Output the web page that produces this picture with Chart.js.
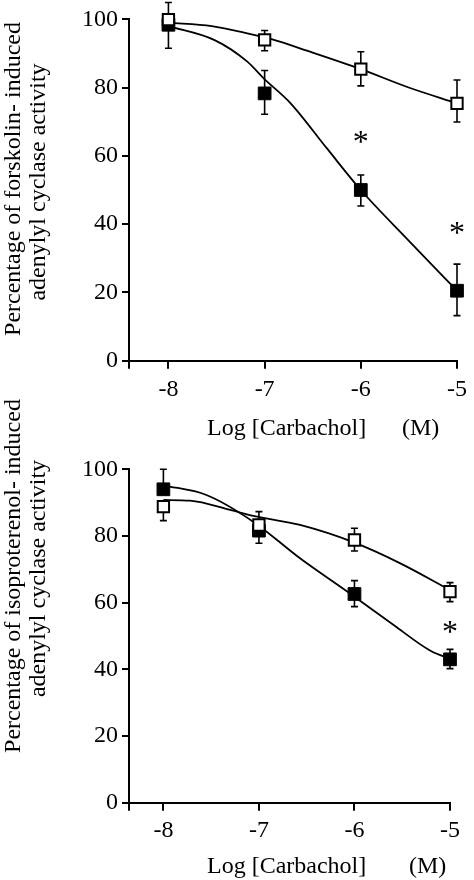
<!DOCTYPE html>
<html>
<head>
<meta charset="utf-8">
<script src="https://cdn.jsdelivr.net/npm/chart.js@4.4.1/dist/chart.umd.min.js"></script>
<style>
  html, body { margin: 0; padding: 0; background: #fff; }
  body { position: relative; width: 474px; height: 880px; }
  canvas { display: block; position: absolute; left: 0; }
  #forskolinChart { top: 0; }
  /* bottom panel overlaps the top one a little so its long y title is not cut */
  #isoproterenolChart { top: 380px; }
</style>
</head>
<body>
<canvas id="forskolinChart" width="474" height="440"></canvas>
<canvas id="isoproterenolChart" width="474" height="500"></canvas>
<script>
// shared axes
const doses = [-8, -7, -6, -5];
const xTickValues = [-8, -7, -6, -5];
const yTickValues = [0, 20, 40, 60, 80, 100];

// top panel: forskolin
const forskolinOpen = [99.9, 94.0, 85.4, 75.4];
const forskolinOpenLow = [99.9, 90.8, 80.5, 69.9];
const forskolinOpenHigh = [104.9, 96.7, 90.5, 82.2];
const forskolinFilled = [98.4, 78.3, 50.0, 20.5];
const forskolinFilledLow = [91.5, 72.2, 45.3, 13.2];
const forskolinFilledHigh = [98.4, 85.0, 54.4, 28.3];
const forskolinOpenFitX = [-8, -7.55, -7.18, -6.92, -6.56, -6, -5.51, -5];
const forskolinOpenFitY = [99, 98, 95.9, 94.1, 90.8, 85.4, 80.1, 75.4];
const forskolinFilledFitX = [-8, -7.52, -7.18, -7.01, -6.73, -6.35, -6, -5.51, -5];
const forskolinFilledFitY = [98, 93.9, 87.6, 82.7, 75.4, 62.1, 50, 35.4, 20.5];
const forskolinStarX = [-6, -5];
const forskolinStarY = [65.6, 38.8];

// bottom panel: isoproterenol
const isoOpen = [88.8, 83.3, 78.8, 63.3];
const isoOpenLow = [84.6, 83.3, 75.5, 60.3];
const isoOpenHigh = [88.8, 87.3, 82.3, 66.0];
const isoFilled = [94.0, 81.6, 62.6, 43.0];
const isoFilledLow = [94.0, 77.8, 58.8, 40.2];
const isoFilledHigh = [100.0, 81.6, 66.6, 46.0];
const isoOpenFitX = [-8, -7.72, -7.30, -7.06, -6.57, -6.0, -5.52, -5];
const isoOpenFitY = [90.8, 90.6, 87.8, 86.0, 83.3, 78.0, 71.8, 63.8];
const isoFilledFitX = [-8, -7.55, -7.06, -6.57, -6.05, -5.59, -5.2, -5];
const isoFilledFitY = [95.2, 92.3, 84.3, 73.3, 62.8, 53.3, 45.5, 43.2];
const isoStarX = [-5];
const isoStarY = [52.8];

const serif = "'Liberation Serif', 'Times New Roman', serif";

function toPoints(xs, ys) {
    return xs.map((x, i) => ({ x: x, y: ys[i] }));
}

// error bars, asterisks and axis titles
function figureDecor(cfg) {
    return {
        id: 'figureDecor',
        beforeDatasetsDraw(chart) {
            const { ctx, scales: { x, y } } = chart;
            ctx.save();
            ctx.strokeStyle = '#000';
            ctx.lineWidth = 1.6;
            cfg.errorBars.forEach(bar => {
                doses.forEach((d, i) => {
                    const px = x.getPixelForValue(d);
                    const yLo = y.getPixelForValue(bar.low[i]);
                    const yHi = y.getPixelForValue(bar.high[i]);
                    ctx.beginPath();
                    ctx.moveTo(px, yLo);
                    ctx.lineTo(px, yHi);
                    if (bar.low[i] < bar.mean[i]) {
                        ctx.moveTo(px - 3.5, yLo);
                        ctx.lineTo(px + 3.5, yLo);
                    }
                    if (bar.high[i] > bar.mean[i]) {
                        ctx.moveTo(px - 3.5, yHi);
                        ctx.lineTo(px + 3.5, yHi);
                    }
                    ctx.stroke();
                });
            });
            ctx.restore();
        },
        afterDraw(chart) {
            const { ctx, scales: { x, y } } = chart;
            ctx.save();
            ctx.fillStyle = '#000';

            // asterisks
            ctx.font = '32px ' + serif;
            ctx.textAlign = 'center';
            ctx.textBaseline = 'alphabetic';
            cfg.starX.forEach((sx, i) => {
                ctx.fillText('*', x.getPixelForValue(sx), y.getPixelForValue(cfg.starY[i]) + 15);
            });

            // x title
            ctx.font = '24px ' + serif;
            ctx.textAlign = 'left';
            ctx.fillText('Log [Carbachol]', 207, cfg.xTitleBase);
            ctx.fillText('(M)', cfg.unitLeft, cfg.xTitleBase);

            // y title, two rotated lines
            ctx.textAlign = 'center';
            cfg.yTitle.forEach((line, i) => {
                ctx.save();
                ctx.translate(cfg.yTitleBase[i], cfg.yTitleMid[i]);
                ctx.rotate(-Math.PI / 2);
                ctx.fillText(line, 0, 0);
                ctx.restore();
            });
            ctx.restore();
        }
    };
}

function makePanel(canvasId, p) {
    const ctx = document.getElementById(canvasId).getContext('2d');
    return new Chart(ctx, {
        type: 'scatter',
        data: {
            datasets: [
                {
                    data: toPoints(doses, p.open),
                    pointStyle: 'rect',
                    pointRadius: 8,
                    backgroundColor: '#fff',
                    borderColor: '#000',
                    borderWidth: 2,
                    clip: false,
                    order: 0
                },
                {
                    data: toPoints(doses, p.filled),
                    pointStyle: 'rect',
                    pointRadius: 9,
                    backgroundColor: '#000',
                    borderColor: '#000',
                    borderWidth: 1,
                    clip: false,
                    order: 1
                },
                {
                    data: toPoints(p.openFitX, p.openFitY),
                    showLine: true,
                    borderColor: '#000',
                    borderWidth: 1.8,
                    pointRadius: 0,
                    cubicInterpolationMode: 'monotone',
                    clip: false,
                    order: 2
                },
                {
                    data: toPoints(p.filledFitX, p.filledFitY),
                    showLine: true,
                    borderColor: '#000',
                    borderWidth: 1.8,
                    pointRadius: 0,
                    cubicInterpolationMode: 'monotone',
                    clip: false,
                    order: 3
                }
            ]
        },
        options: {
            responsive: false,
            animation: false,
            devicePixelRatio: 1,
            events: [],
            layout: {
                padding: { top: p.padTop, right: p.padRight, left: 0, bottom: 0 }
            },
            scales: {
                x: {
                    type: 'linear',
                    min: p.xMin,
                    max: -5,
                    afterBuildTicks: (scale) => {
                        scale.ticks = [p.xMin].concat(xTickValues).map(v => ({ value: v }));
                    },
                    afterFit: (scale) => { scale.height = p.xAxisHeight; },
                    ticks: {
                        callback: (v) => xTickValues.includes(v) ? String(v) : '',
                        color: '#000',
                        padding: p.xPad,
                        maxRotation: 0,
                        autoSkip: false,
                        font: { family: serif, size: 24 }
                    },
                    grid: {
                        drawOnChartArea: false,
                        drawTicks: true,
                        tickLength: 8,
                        color: '#000',
                        lineWidth: 2
                    },
                    border: { display: true, color: '#000', width: 2 }
                },
                y: {
                    min: 0,
                    max: 100,
                    afterBuildTicks: (scale) => {
                        scale.ticks = yTickValues.map(v => ({ value: v }));
                    },
                    afterFit: (scale) => { scale.width = 129; },
                    ticks: {
                        color: '#000',
                        padding: 4,
                        font: { family: serif, size: 24 }
                    },
                    grid: {
                        drawOnChartArea: false,
                        drawTicks: true,
                        tickLength: 7,
                        color: '#000',
                        lineWidth: 2
                    },
                    border: { display: true, color: '#000', width: 2 }
                }
            },
            plugins: {
                legend: { display: false },
                tooltip: { enabled: false }
            }
        },
        plugins: [figureDecor(p.decor)]
    });
}

makePanel('forskolinChart', {
    open: forskolinOpen,
    filled: forskolinFilled,
    openFitX: forskolinOpenFitX,
    openFitY: forskolinOpenFitY,
    filledFitX: forskolinFilledFitX,
    filledFitY: forskolinFilledFitY,
    xMin: -8.41,
    padTop: 19.3,
    padRight: 10.7,
    xAxisHeight: 79.3,
    xPad: 7,
    decor: {
        errorBars: [
            { mean: forskolinOpen, low: forskolinOpenLow, high: forskolinOpenHigh },
            { mean: forskolinFilled, low: forskolinFilledLow, high: forskolinFilledHigh }
        ],
        starX: forskolinStarX,
        starY: forskolinStarY,
        xTitleBase: 435,
        unitLeft: 402,
        yTitle: ['Percentage of forskolin- induced', 'adenylyl cyclase activity'],
        yTitleBase: [20, 45],
        yTitleMid: [179, 182]
    }
});

// canvas starts at y=380, so everything is shifted down by 60
makePanel('isoproterenolChart', {
    open: isoOpen,
    filled: isoFilled,
    openFitX: isoOpenFitX,
    openFitY: isoOpenFitY,
    filledFitX: isoFilledFitX,
    filledFitY: isoFilledFitY,
    xMin: -8.36,
    padTop: 89.3,
    padRight: 24,
    xAxisHeight: 77.3,
    xPad: 6,
    decor: {
        errorBars: [
            { mean: isoOpen, low: isoOpenLow, high: isoOpenHigh },
            { mean: isoFilled, low: isoFilledLow, high: isoFilledHigh }
        ],
        starX: isoStarX,
        starY: isoStarY,
        xTitleBase: 492.7,
        unitLeft: 409,
        yTitle: ['Percentage of isoproterenol- induced', 'adenylyl cyclase activity'],
        yTitleBase: [20, 45],
        yTitleMid: [196, 198.5]
    }
});
</script>
</body>
</html>
